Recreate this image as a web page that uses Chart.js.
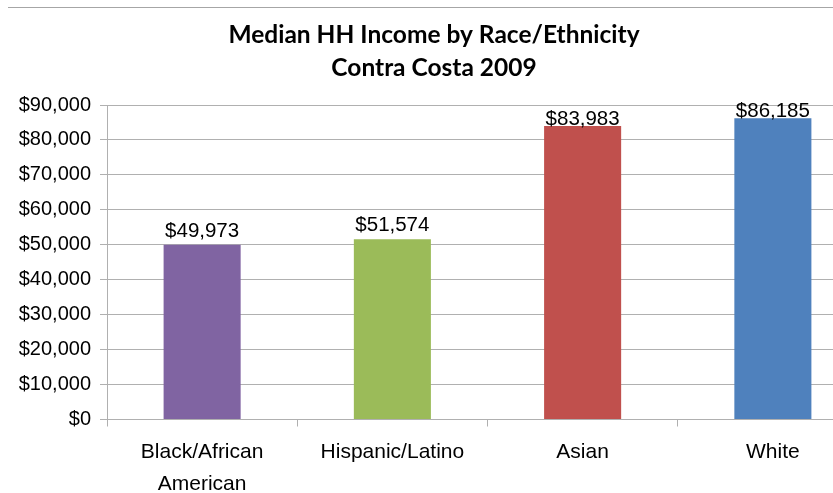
<!DOCTYPE html>
<html>
<head>
<meta charset="utf-8">
<script src="https://cdn.jsdelivr.net/npm/chart.js@4"></script>
<style>
  html, body { margin: 0; padding: 0; background: #ffffff; overflow: hidden; }
  #wrap { width: 878px; height: 493px; }
</style>
</head>
<body>
<div id="wrap"><canvas id="chart" width="878" height="493"></canvas></div>
<script>
// Median household income, Contra Costa County, 2009
const categories = [['Black/African', 'American'], 'Hispanic/Latino', 'Asian', 'White'];
const incomes = [49973, 51574, 83983, 86185];
const barColors = ['#8064A2', '#9BBB59', '#C0504D', '#4F81BD'];
const titleLines = ['Median HH Income by Race/Ethnicity', 'Contra Costa 2009'];
const yMin = 0;
const yMax = 90000;
const yStep = 10000;

const money = v => '$' + Number(v).toLocaleString('en-US');
const bodyFont = '"Liberation Sans", Arial, sans-serif';

// Thin frame line across the top of the chart
const frameLine = {
  id: 'frameLine',
  beforeDraw(chart) {
    const ctx = chart.ctx;
    ctx.save();
    ctx.strokeStyle = '#a6a6a6';
    ctx.lineWidth = 1;
    ctx.beginPath();
    ctx.moveTo(8, 7.5);
    ctx.lineTo(chart.width, 7.5);
    ctx.stroke();
    ctx.restore();
  }
};

// Value labels above each bar
const valueLabels = {
  id: 'valueLabels',
  afterDatasetsDraw(chart) {
    const ctx = chart.ctx;
    const meta = chart.getDatasetMeta(0);
    const area = chart.chartArea;
    ctx.save();
    ctx.font = '20.5px ' + bodyFont;
    ctx.fillStyle = '#000000';
    ctx.textAlign = 'center';
    ctx.textBaseline = 'alphabetic';
    meta.data.forEach((bar, i) => {
      const v = chart.data.datasets[0].data[i];
      let gap = 8;
      if (bar.y - gap - 14 < area.top + 5) gap = 1.5;
      ctx.fillText(money(v), bar.x, bar.y - gap);
    });
    ctx.restore();
  }
};

new Chart(document.getElementById('chart'), {
  type: 'bar',
  data: {
    labels: categories,
    datasets: [{
      data: incomes,
      backgroundColor: barColors,
      borderWidth: 0,
      barPercentage: 0.405,
      categoryPercentage: 1.0
    }]
  },
  options: {
    responsive: false,
    animation: false,
    layout: { padding: { left: 0, right: 10, top: 0, bottom: 0 } },
    plugins: {
      legend: { display: false },
      tooltip: { enabled: false },
      title: {
        display: true,
        text: titleLines,
        color: '#000000',
        font: { family: 'Lato', size: 24.5, weight: 'bold', lineHeight: 1.347 },
        padding: { top: 19, bottom: 20 }
      }
    },
    scales: {
      x: {
        grid: {
          display: true,
          drawOnChartArea: false,
          drawTicks: true,
          tickLength: 7,
          color: '#b0b0b0'
        },
        border: { display: true, color: '#b0b0b0' },
        ticks: {
          color: '#000000',
          font: { family: bodyFont, size: 21, lineHeight: 1.5 },
          padding: 10,
          maxRotation: 0,
          autoSkip: false
        },
        afterFit(scale) { scale.height = 73.5; }
      },
      y: {
        min: yMin,
        max: yMax,
        grid: {
          color: '#b0b0b0',
          tickLength: 7,
          drawTicks: true
        },
        border: { display: true, color: '#b0b0b0' },
        ticks: {
          stepSize: yStep,
          color: '#000000',
          font: { family: bodyFont, size: 20 },
          padding: 9,
          callback: v => money(v)
        },
        afterFit(scale) { scale.width = 107; }
      }
    }
  },
  plugins: [frameLine, valueLabels]
});
</script>
</body>
</html>
